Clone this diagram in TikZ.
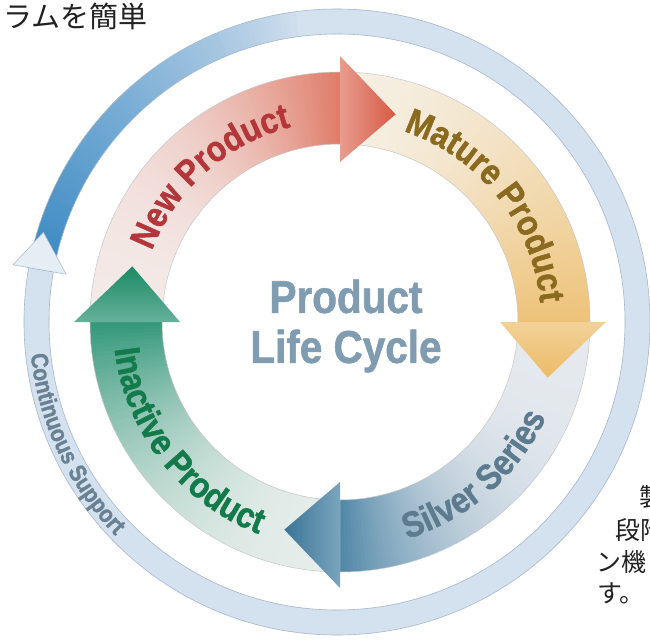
\documentclass[tikz,border=0pt]{standalone}
\usepackage{fontspec}
\setmainfont{Liberation Sans}
\newfontfamily\condfont[FakeStretch=0.88, FakeBold=1.2]{Liberation Sans Bold}
\newfontfamily\jpfont{Noto Sans CJK JP}
\usetikzlibrary{decorations.text}

\definecolor{newtail}{HTML}{F3E9E7}
\definecolor{newbody}{HTML}{E07B67}
\definecolor{newhead}{HTML}{D65A45}
\definecolor{newtext}{HTML}{B3373A}
\definecolor{mattail}{HTML}{F5EFE3}
\definecolor{matbody}{HTML}{EEC277}
\definecolor{mathead}{HTML}{ECBB66}
\definecolor{mattext}{HTML}{8A6A1F}
\definecolor{siltail}{HTML}{E5E9EE}
\definecolor{silbody}{HTML}{4F86A6}
\definecolor{silhead}{HTML}{3A7597}
\definecolor{siltext}{HTML}{5C7B8E}
\definecolor{inatail}{HTML}{E6EDEA}
\definecolor{inabody}{HTML}{33977A}
\definecolor{inahead}{HTML}{1C8A64}
\definecolor{inatext}{HTML}{137A4C}
\definecolor{ringfill}{HTML}{D4E1EE}
\definecolor{ringdark}{HTML}{3A89C3}
\definecolor{ringedge}{HTML}{A6B8CA}
\definecolor{supporttext}{HTML}{6A8194}
\definecolor{titletext}{HTML}{7F9CB1}
\definecolor{jptext}{HTML}{222222}

\newcommand{\arcfont}{\condfont\fontsize{36}{36}\selectfont}

\begin{document}
\begin{tikzpicture}[x=1pt, y=1pt,
  bandedge/.style={line width=0.5pt, draw=black!22},
  title/.style={font=\condfont\fontsize{46}{50}\selectfont, text=titletext, align=center, inner sep=0pt},
  jp/.style={font=\jpfont\fontsize{25}{25}\selectfont, text=jptext, inner sep=0pt}
]
\useasboundingbox (-340,-318) rectangle (310,322);
\clip (-340,-318) rectangle (310,322);
\fill[white] (-340,-318) rectangle (310,322);

\begin{scope}[shift={(-3,0)}]
\fill[ringfill, even odd rule] (0,0) circle[radius=313] (0,0) circle[radius=288];
\foreach \i in {0,...,79} {
  \pgfmathsetmacro\angA{170-0.9*\i}
  \pgfmathsetmacro\angB{\angA-1.3}
  \pgfmathsetmacro\pmix{100*(1-\i/80)^0.8}
  \fill[ringdark!\pmix!ringfill] (\angA:288) arc[start angle=\angA, end angle=\angB, radius=288]
    -- (\angB:313) arc[start angle=\angB, end angle=\angA, radius=313] -- cycle;
}
\draw[ringedge, line width=0.6pt] (0,0) circle[radius=288] (0,0) circle[radius=313];
\filldraw[fill=ringfill!60!white, draw=ringedge, line width=0.5pt] (170:275) -- (163:307) -- (170:329) -- cycle;
\path[decorate, decoration={text along path, text align=center,
  text={|\condfont\fontsize{24}{24}\selectfont\color{supporttext}|Continuous Support}}]
  (185:308) arc[start angle=185, delta angle=40, radius=308];
\end{scope}

\foreach \s/\arr/\ex in {180/new/2.5, 90/mat/1.6, 0/sil/3, -90/ina/2.3} {
  \foreach \i in {0,...,89} {
    \pgfmathsetmacro\angA{\s-\i}
    \pgfmathsetmacro\angB{\angA-1.4}
    \pgfmathsetmacro\pmix{100*((\i+0.5)/90)^\ex}
    \fill[\arr body!\pmix!\arr tail] (\angA:178) arc[start angle=\angA, end angle=\angB, radius=178]
      -- (\angB:250) arc[start angle=\angB, end angle=\angA, radius=250] -- cycle;
  }
  \draw[bandedge] (\s:178) arc[start angle=\s, delta angle=-90, radius=178]
    (\s:250) arc[start angle=\s, delta angle=-90, radius=250];
}

\foreach \s/\arr in {90/new, 0/mat, -90/sil, 180/ina} {
  \pgfmathsetmacro\ang{\s-180}
  \shade[top color=\arr head, bottom color=\arr body!75!white, shading angle=\ang]
    (\s:160) -- ({\s-15}:215) -- (\s:266) -- cycle;
}

\path[decorate, decoration={text along path, text align=center,
  text={|\arcfont\color{newtext}|New Product}}]
  (176.7:201) arc[start angle=176.7, delta angle=-90, radius=201];
\path[decorate, decoration={text along path, text align=center,
  text={|\arcfont\color{mattext}|Mature Product}}]
  (83.5:201) arc[start angle=83.5, delta angle=-90, radius=201];
\path[decorate, decoration={text along path, text align=center,
  text={|\arcfont\color{siltext}|Silver Series}}]
  (-93.8:227) arc[start angle=-93.8, delta angle=90, radius=227];
\path[decorate, decoration={text along path, text align=center,
  text={|\arcfont\color{inatext}|Inactive Product}}]
  (172.9:227) arc[start angle=172.9, delta angle=90, radius=227];

\node[title] (cycle) at (6,-4) {Product\\Life Cycle};

\node[jp, anchor=east, font=\jpfont\fontsize{29}{29}\selectfont] (intro) at (-192,306) {ラムを簡単};
\node[jp, anchor=west] (line1) at (299,-175) {製};
\node[jp, anchor=west] (line2) at (275,-208) {段階};
\node[jp, anchor=west] (line3) at (256,-240) {ン機};
\node[jp, anchor=west] (line4) at (257,-271) {す。};
\end{tikzpicture}
\end{document}
